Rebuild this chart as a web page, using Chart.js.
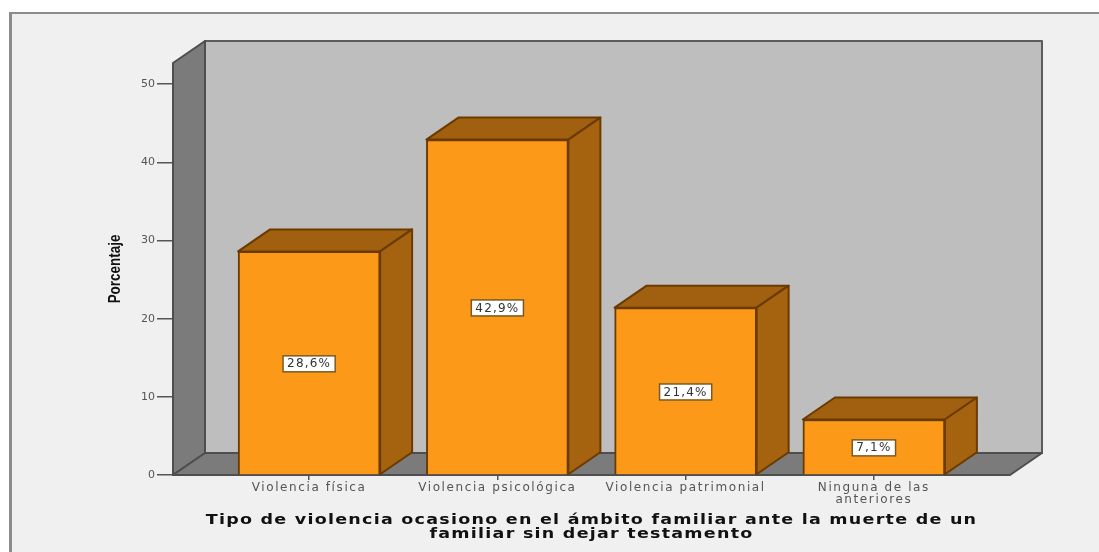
<!DOCTYPE html>
<html lang="es">
<head>
    <meta charset="UTF-8">
    <title>Tipo de violencia</title>
    <script src="https://cdn.jsdelivr.net/npm/chart.js"></script>
    <style>
        html, body { margin: 0; padding: 0; background: #fff; overflow: hidden; }
        #frame { position: absolute; left: 9px; top: 12px; right: 0; bottom: 0; background: #f0f0f0; border-left: 3px solid #8c8c8c; border-top: 2px solid #8c8c8c; }
        #wrap { position: absolute; left: 0; top: 0; width: 1099px; height: 552px; }
        canvas { filter: blur(0.6px); }
    </style>
</head>
<body>
    <div id="frame"></div>
    <div id="wrap"><canvas id="barChart" width="1099" height="552"></canvas></div>

    <script>
        const categories = ['Violencia física', 'Violencia psicológica', 'Violencia patrimonial', ['Ninguna de las', 'anteriores']];
        const percentages = [28.6, 42.9, 21.4, 7.1];
        const yTicks = [0, 10, 20, 30, 40, 50];
        const yTitle = 'Porcentaje';
        const xTitle = ['Tipo de violencia ocasiono en el ámbito familiar ante la muerte de un', 'familiar sin dejar testamento'];

        // depth of the fake 3D box
        const depthX = 32;
        const depthY = -22;

        function poly(ctx, pts, fill, stroke, lw) {
            ctx.beginPath();
            pts.forEach((p, i) => i ? ctx.lineTo(p[0], p[1]) : ctx.moveTo(p[0], p[1]));
            ctx.closePath();
            ctx.fillStyle = fill;
            ctx.fill();
            ctx.strokeStyle = stroke;
            ctx.lineWidth = lw;
            ctx.lineJoin = 'round';
            ctx.stroke();
        }

        // the original picture was stretched sideways, so its text is wide and spaced
        function stretched(scale, method, spacing, kx, ky) {
            const orig = scale[method];
            scale[method] = function (...args) {
                const ctx = this.ctx;
                const area = this.chart.chartArea;
                const cx = (area.left + area.right) / 2, cy = (area.top + area.bottom) / 2;
                ctx.save();
                ctx.letterSpacing = spacing;
                ctx.translate(cx, cy);
                ctx.scale(kx, ky);
                ctx.translate(-cx, -cy);
                orig.apply(this, args);
                ctx.restore();
            };
        }

        const box3d = {
            id: 'box3d',
            beforeDatasetsDraw(chart) {
                const ctx = chart.ctx;
                const l = chart.chartArea.left, r = chart.chartArea.right;
                const t = chart.chartArea.top, b = chart.chartArea.bottom;
                ctx.save();
                poly(ctx, [[l + depthX, t + depthY], [r + depthX, t + depthY], [r + depthX, b + depthY], [l + depthX, b + depthY]], '#bebebe', '#5c5c5c', 2);
                poly(ctx, [[l, t], [l + depthX, t + depthY], [l + depthX, b + depthY], [l, b]], '#7b7b7b', '#4e4e4e', 2);
                poly(ctx, [[l, b], [l + depthX, b + depthY], [r + depthX, b + depthY], [r, b]], '#7b7b7b', '#4e4e4e', 2);
                chart.getDatasetMeta(0).data.forEach(bar => {
                    const x0 = bar.x - bar.width / 2, x1 = bar.x + bar.width / 2;
                    poly(ctx, [[x0, bar.y], [x0 + depthX, bar.y + depthY], [x1 + depthX, bar.y + depthY], [x1, bar.y]], '#a0600f', '#6b3a00', 2);
                    poly(ctx, [[x1, bar.y], [x1 + depthX, bar.y + depthY], [x1 + depthX, bar.base + depthY], [x1, bar.base]], '#a5620f', '#6b3a00', 2);
                });
                ctx.restore();
            },
            afterDatasetsDraw(chart) {
                // value labels in the middle of each front face
                const ctx = chart.ctx;
                ctx.save();
                ctx.font = '12px "DejaVu Sans"';
                ctx.letterSpacing = '1.2px';
                ctx.textAlign = 'center';
                ctx.textBaseline = 'middle';
                chart.getDatasetMeta(0).data.forEach((bar, i) => {
                    const txt = percentages[i].toFixed(1).replace('.', ',') + '%';
                    const cy = (bar.y + bar.base) / 2 + 1;
                    const w = ctx.measureText(txt).width + 8;
                    ctx.fillStyle = '#fff';
                    ctx.strokeStyle = '#7a5a20';
                    ctx.lineWidth = 1.5;
                    ctx.fillRect(bar.x - w / 2, cy - 8, w, 16);
                    ctx.strokeRect(bar.x - w / 2, cy - 8, w, 16);
                    ctx.fillStyle = '#333';
                    ctx.fillText(txt, bar.x, cy + 0.5);
                });
                ctx.restore();
            }
        };

        const chart = new Chart(document.getElementById('barChart').getContext('2d'), {
            type: 'bar',
            data: {
                datasets: [{
                    data: percentages.map((v, i) => ({ x: i, y: v })),
                    backgroundColor: '#fc9918',
                    borderColor: '#6b3a00',
                    borderWidth: 2,
                    barThickness: 142
                }]
            },
            plugins: [box3d],
            options: {
                responsive: false,
                animation: false,
                layout: { padding: { left: 100, right: 89, top: 63, bottom: 0 } },
                plugins: { legend: { display: false }, tooltip: { enabled: false } },
                scales: {
                    x: {
                        type: 'linear',
                        offset: false,
                        min: -0.723,
                        max: 3.723,
                        afterFit(scale) { scale.height = 77; },
                        grid: { offset: false, drawOnChartArea: false, tickLength: 5, color: '#555', lineWidth: 1.5 },
                        border: { display: false },
                        ticks: {
                            stepSize: 1,
                            includeBounds: false,
                            autoSkip: false,
                            maxRotation: 0,
                            padding: 2,
                            color: '#555',
                            font: { family: '"DejaVu Sans"', size: 12, lineHeight: 1 },
                            callback: v => categories[v]
                        },
                        title: {
                            display: true,
                            text: xTitle,
                            color: '#111',
                            padding: { top: 0, bottom: 11 },
                            font: { family: '"DejaVu Sans"', size: 14, weight: 'bold', lineHeight: 0.98 }
                        }
                    },
                    y: {
                        min: 0,
                        max: 52.7,
                        afterFit(scale) { scale.width = 73; },
                        afterBuildTicks(scale) { scale.ticks = yTicks.map(v => ({ value: v })); },
                        grid: { drawOnChartArea: false, tickLength: 16, color: '#555', lineWidth: 1.5 },
                        border: { display: false },
                        ticks: {
                            padding: 2,
                            color: '#555',
                            font: { family: '"DejaVu Sans"', size: 11 }
                        },
                        title: {
                            display: true,
                            text: yTitle,
                            color: '#111',
                            padding: { top: 6, bottom: 0 },
                            font: { family: '"Liberation Sans"', size: 16, weight: 'bold' }
                        }
                    }
                }
            }
        });

        stretched(chart.scales.x, 'drawLabels', '1.6px', 1, 1);
        stretched(chart.scales.x, 'drawTitle', '1px', 1.25, 1);
        stretched(chart.scales.y, 'drawTitle', '0px', 1, 0.84);
        chart.draw();
    </script>
</body>
</html>
